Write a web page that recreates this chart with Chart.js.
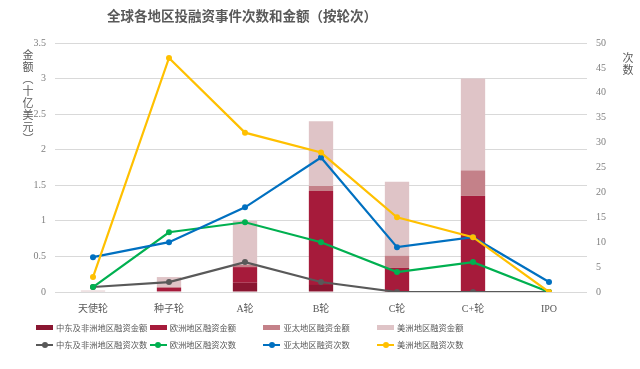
<!DOCTYPE html>
<html>
<head>
<meta charset="utf-8">
<script src="https://cdn.jsdelivr.net/npm/chart.js@4.4.0/dist/chart.umd.min.js"></script>
<style>
  html, body { margin: 0; padding: 0; background: #fff; }
  #wrap { position: relative; width: 640px; height: 369px; font-family: "Noto Sans CJK SC", sans-serif; color: #595959; }
  #chart { position: absolute; left: 0; top: 0; }
  .title { position: absolute; left: 107px; top: 6px; font-size: 13.5px; font-weight: bold; line-height: 18px; white-space: nowrap; }
  .axis-title { position: absolute; writing-mode: vertical-rl; font-size: 11px; line-height: 12px; width: 12px; height: 120px; white-space: nowrap; letter-spacing: 1px; }
  #legend { position: absolute; left: 36px; top: 321px; display: grid; grid-template-columns: repeat(4, 113.7px); row-gap: 4px; font-size: 8.3px; line-height: 13px; }
  .item { display: flex; align-items: center; white-space: nowrap; }
  .mark { position: relative; width: 17px; height: 13px; margin-right: 3px; flex: none; }
  .mark .bar { position: absolute; left: 0; top: 4px; width: 17px; height: 5px; }
  .mark .line { position: absolute; left: 0; top: 5.5px; width: 17px; height: 2.2px; }
  .mark .dot { position: absolute; left: 5.5px; top: 3.5px; width: 6px; height: 6px; border-radius: 50%; }
</style>
</head>
<body>
<div id="wrap">
  <canvas id="chart" width="640" height="369"></canvas>
  <div class="title">全球各地区投融资事件次数和金额（按轮次）</div>
  <div class="axis-title" style="left:22px; top:49px;">金额（十亿美元）</div>
  <div class="axis-title" style="left:622px; top:52px; height:30px;">次数</div>
  <div id="legend"></div>
</div>
<script>
const categories = ['天使轮', '种子轮', 'A轮', 'B轮', 'C轮', 'C+轮', 'IPO'];

// 融资金额（十亿美元）
const meAmount = [0, 0.01, 0.13, 0.1, 0, 0, 0];
const euAmount = [0, 0.05, 0.22, 1.32, 0.34, 1.35, 0];
const apAmount = [0, 0.01, 0.03, 0.07, 0.17, 0.36, 0];
const amAmount = [0.02, 0.14, 0.62, 0.91, 1.04, 1.29, 0];

// 融资次数
const meCount = [1, 2, 6, 2, 0, 0, 0];
const euCount = [1, 12, 14, 10, 4, 6, 0];
const apCount = [7, 10, 17, 27, 9, 11, 2];
const amCount = [3, 47, 32, 28, 15, 11, 0];

const amountTicks = { min: 0, max: 3.5, step: 0.5 };
const countTicks = { min: 0, max: 50, step: 5 };

function barSet(label, data, color) {
  return {
    type: 'bar',
    label,
    data,
    backgroundColor: color,
    stack: 'amount',
    yAxisID: 'y',
    order: 5,
    barPercentage: 0.32,
    categoryPercentage: 1,
  };
}

function lineSet(label, data, color, order) {
  return {
    type: 'line',
    label,
    data,
    borderColor: color,
    backgroundColor: color,
    borderWidth: 2.2,
    pointRadius: 3,
    pointBorderWidth: 0,
    pointBackgroundColor: color,
    tension: 0,
    yAxisID: 'y1',
    order,
  };
}

const datasets = [
  barSet('中东及非洲地区融资金额', meAmount, '#8a1631'),
  barSet('欧洲地区融资金额', euAmount, '#a61b3b'),
  barSet('亚太地区融资金额', apAmount, '#c48189'),
  barSet('美洲地区融资金额', amAmount, '#dfc4c7'),
  lineSet('中东及非洲地区融资次数', meCount, '#595959', 4),
  lineSet('欧洲地区融资次数', euCount, '#00b050', 3),
  lineSet('亚太地区融资次数', apCount, '#0070c0', 2),
  lineSet('美洲地区融资次数', amCount, '#ffc000', 1),
];

const numFont = { family: '"Liberation Serif", "Noto Sans CJK SC", serif', size: 10 };

const chart = new Chart(document.getElementById('chart').getContext('2d'), {
  data: { labels: categories, datasets },
  options: {
    responsive: false,
    animation: false,
    devicePixelRatio: 1,
    layout: { padding: { top: 43, left: 0, right: 0, bottom: 0 } },
    plugins: {
      legend: { display: false },
      title: { display: false },
      tooltip: { enabled: false },
    },
    scales: {
      x: {
        grid: { display: false },
        border: { display: false },
        ticks: {
          color: '#595959',
          font: { family: '"Liberation Serif", "Noto Sans CJK SC", serif', size: 10 },
          padding: 3,
          maxRotation: 0,
        },
        afterFit(scale) { scale.height = 77; },
      },
      y: {
        position: 'left',
        stacked: true,
        min: amountTicks.min,
        max: amountTicks.max,
        ticks: {
          stepSize: amountTicks.step,
          color: '#7f7f7f',
          font: numFont,
          padding: 9,
          callback: (value) => String(Number(value.toFixed(2))),
        },
        grid: { color: '#d9d9d9', lineWidth: 1, drawTicks: false },
        border: { display: false },
        afterFit(scale) { scale.width = 55; },
      },
      y1: {
        position: 'right',
        min: countTicks.min,
        max: countTicks.max,
        ticks: { stepSize: countTicks.step, color: '#7f7f7f', font: numFont, padding: 9 },
        grid: { drawOnChartArea: false, drawTicks: false },
        border: { display: false },
        afterFit(scale) { scale.width = 53; },
      },
    },
  },
});

// legend laid out in a 4-column grid like the original
const legendEl = document.getElementById('legend');
chart.data.datasets.forEach((ds) => {
  const item = document.createElement('div');
  item.className = 'item';
  const mark = document.createElement('span');
  mark.className = 'mark';
  if (ds.type === 'bar') {
    mark.innerHTML = `<span class="bar" style="background:${ds.backgroundColor}"></span>`;
  } else {
    mark.innerHTML = `<span class="line" style="background:${ds.borderColor}"></span>` +
      `<span class="dot" style="background:${ds.borderColor}"></span>`;
  }
  item.appendChild(mark);
  item.appendChild(document.createTextNode(ds.label));
  legendEl.appendChild(item);
});
</script>
</body>
</html>
